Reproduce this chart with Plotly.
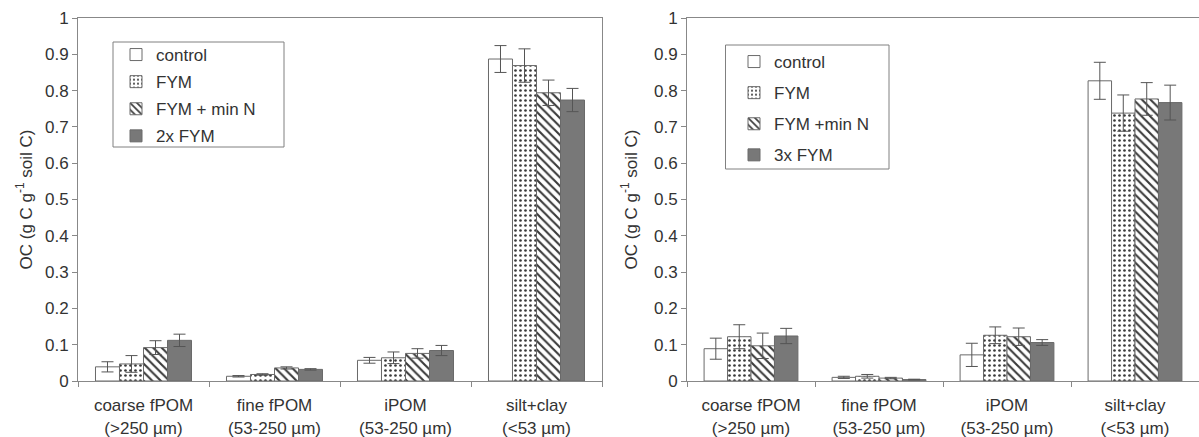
import plotly.graph_objects as go

categories = ["coarse fPOM<br>(>250 µm)", "fine fPOM<br>(53-250 µm)",
              "iPOM<br>(53-250 µm)", "silt+clay<br>(&lt;53 µm)"]

# Left panel
left_names = ["control", "FYM", "FYM + min N", "2x FYM"]
left_control = [0.039, 0.013, 0.057, 0.887]
left_control_err = [0.014, 0.002, 0.008, 0.037]
left_fym = [0.047, 0.018, 0.064, 0.869]
left_fym_err = [0.023, 0.002, 0.016, 0.046]
left_fymn = [0.092, 0.036, 0.076, 0.794]
left_fymn_err = [0.019, 0.003, 0.013, 0.035]
left_2x = [0.112, 0.032, 0.084, 0.774]
left_2x_err = [0.017, 0.002, 0.014, 0.032]

# Right panel
right_names = ["control", "FYM", "FYM +min N", "3x FYM"]
right_control = [0.089, 0.010, 0.072, 0.827]
right_control_err = [0.029, 0.003, 0.032, 0.051]
right_fym = [0.122, 0.013, 0.126, 0.738]
right_fym_err = [0.033, 0.005, 0.023, 0.050]
right_fymn = [0.097, 0.008, 0.122, 0.777]
right_fymn_err = [0.035, 0.002, 0.024, 0.045]
right_3x = [0.124, 0.004, 0.106, 0.767]
right_3x_err = [0.021, 0.001, 0.008, 0.048]

y_ticks = [0, 0.1, 0.2, 0.3, 0.4, 0.5, 0.6, 0.7, 0.8, 0.9, 1]

OUTLINE = "#6a6a6a"
TEXT = "#333333"
FONT = "Liberation Sans, Arial, sans-serif"
FS = 17

W, H = 1199, 437
T, B = 18, 56
PH = H - T - B


def px_x(x):
    return x / W


def px_y(y):
    return (H - B - y) / PH


styles = [
    dict(color="white", pattern=dict(shape="")),
    dict(color="white", pattern=dict(shape=".", fgcolor="#3a3a3a", bgcolor="white",
                                     size=5, solidity=0.22, fillmode="replace")),
    dict(color="white", pattern=dict(shape="\\", fgcolor="#3a3a3a", bgcolor="white",
                                     size=6, solidity=0.35, fillmode="replace")),
    dict(color="#787878", pattern=dict(shape="")),
]

fig = go.Figure()


def add_panel(names, series, errs, xa, ya, legend):
    for i, (nm, vals, er) in enumerate(zip(names, series, errs)):
        st = styles[i]
        fig.add_trace(go.Bar(
            x=categories, y=vals, name=nm,
            xaxis=xa, yaxis=ya, legend=legend,
            legendgroup=legend + str(i),
            marker=dict(color=st["color"], pattern=st["pattern"],
                        line=dict(color=OUTLINE, width=1)),
            error_y=dict(type="data", array=er, visible=True,
                         color="#555555", thickness=1, width=6),
            offsetgroup=str(i),
        ))


add_panel(left_names, [left_control, left_fym, left_fymn, left_2x],
          [left_control_err, left_fym_err, left_fymn_err, left_2x_err],
          "x", "y", "legend")
add_panel(right_names, [right_control, right_fym, right_fymn, right_3x],
          [right_control_err, right_fym_err, right_fymn_err, right_3x_err],
          "x2", "y2", "legend2")

axis_common = dict(showline=True, linecolor="#888888", linewidth=1, mirror=True,
                   showgrid=False, zeroline=False, automargin=False,
                   tickfont=dict(family=FONT, size=FS, color=TEXT))


def ytitle(standoff):
    return dict(text="OC (g C g<sup>-1</sup> soil C)", standoff=standoff,
                font=dict(family=FONT, size=FS, color=TEXT))


fig.update_layout(
    width=W, height=H,
    margin=dict(l=0, r=0, t=T, b=B),
    paper_bgcolor="white", plot_bgcolor="white",
    barmode="group", bargap=0.267, bargroupgap=0,
    font=dict(family=FONT, size=FS, color=TEXT),
    showlegend=True,
    xaxis=dict(domain=[px_x(78), px_x(602)], anchor="y", type="category",
               ticks="outside", tickson="boundaries", ticklen=5, tickcolor="#888888",
               ticklabelstandoff=9, **axis_common),
    xaxis2=dict(domain=[px_x(687), 1.0], anchor="y2", type="category",
                ticks="outside", tickson="boundaries", ticklen=5, tickcolor="#888888",
                ticklabelstandoff=9, **axis_common),
    yaxis=dict(range=[0, 1], tickvals=y_ticks, ticks="outside", ticklen=5,
               tickcolor="#888888", anchor="x", title=ytitle(8), **axis_common),
    yaxis2=dict(range=[0, 1], tickvals=y_ticks, ticks="outside", ticklen=5,
                tickcolor="#888888", anchor="x2", title=ytitle(12), **axis_common),
    legend=dict(x=px_x(116), y=px_y(37), xanchor="left", yanchor="top",
                borderwidth=0, bgcolor="rgba(0,0,0,0)",
                font=dict(family=FONT, size=FS, color=TEXT),
                traceorder="grouped", tracegroupgap=2),
    legend2=dict(x=px_x(734), y=px_y(44), xanchor="left", yanchor="top",
                 borderwidth=0, bgcolor="rgba(0,0,0,0)",
                 font=dict(family=FONT, size=FS, color=TEXT),
                 traceorder="grouped", tracegroupgap=6),
    shapes=[
        dict(type="rect", xref="paper", yref="paper",
             x0=px_x(113), x1=px_x(284), y0=px_y(147), y1=px_y(42),
             line=dict(color="#808080", width=1), fillcolor="rgba(0,0,0,0)"),
        dict(type="rect", xref="paper", yref="paper",
             x0=px_x(725.5), x1=px_x(889), y0=px_y(169), y1=px_y(45),
             line=dict(color="#808080", width=1), fillcolor="rgba(0,0,0,0)"),
    ],
)

fig.write_html("out.html",
               config={"displayModeBar": False},
               post_script="document.body.style.margin='0';document.body.style.overflow='hidden';")
